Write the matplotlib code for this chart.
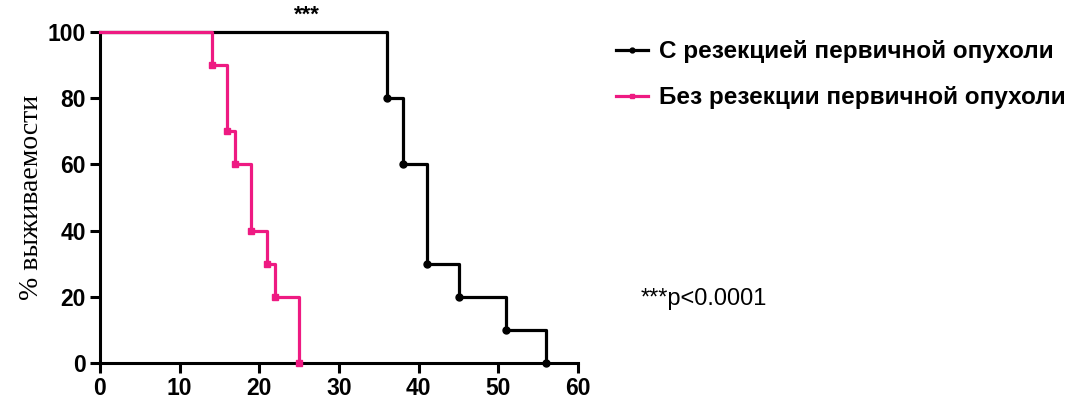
import matplotlib
matplotlib.use("Agg")
from matplotlib import pyplot as plt

# Kaplan-Meier steps (time in days, % survival after each event)
time_res = [0, 36, 38, 41, 45, 51, 56]
surv_res = [100, 80, 60, 30, 20, 10, 0]

time_nores = [0, 14, 16, 17, 19, 21, 22, 25]
surv_nores = [100, 90, 70, 60, 40, 30, 20, 0]

labels = ["С резекцией первичной опухоли", "Без резекции первичной опухоли"]
xticks = [0, 10, 20, 30, 40, 50, 60]
yticks = [0, 20, 40, 60, 80, 100]

black = "#000000"
pink = "#EE1A82"

fig = plt.figure(figsize=(10.89, 4.05), dpi=100)
ax = fig.add_axes([0.0918, 0.1037, 0.4390, 0.8173])

ax.step(time_res, surv_res, where="post", color=black, lw=2.3,
        marker="o", ms=5, markevery=slice(1, None), clip_on=False, zorder=3,
        label=labels[0])
ax.step(time_nores, surv_nores, where="post", color=pink, lw=2.3,
        marker="s", ms=5, markevery=slice(1, None), clip_on=False, zorder=4,
        label=labels[1])

ax.set_xlim(0, 60)
ax.set_ylim(0, 100)
ax.set_xticks(xticks)
ax.set_yticks(yticks)

for s in ["top", "right"]:
    ax.spines[s].set_visible(False)
for s in ["left", "bottom"]:
    ax.spines[s].set_linewidth(2.2)
ax.tick_params(width=2.2, length=7, direction="out", pad=3)
for lab in ax.get_xticklabels() + ax.get_yticklabels():
    lab.set_fontfamily("Liberation Sans")
    lab.set_fontweight("bold")
    lab.set_fontsize(16.5)

ax.set_ylabel("% выживаемости", family="Liberation Serif", fontsize=20, labelpad=3)

ax.text(26, 105, "***", fontsize=16, fontweight="bold",
        family="Liberation Sans", ha="center", va="center", clip_on=False)

fig.text(0.588, 0.262, "***p<0.0001", fontsize=17, family="Liberation Sans",
         va="center")

fig.legend(loc="upper left", bbox_to_anchor=(0.546, 0.955), frameon=False,
           prop={"family": "Liberation Sans", "weight": "bold", "size": 17.5},
           handlelength=1.3, handletextpad=0.45, labelspacing=0.95,
           markerscale=0.7)

fig.savefig("out.png", dpi=100)
